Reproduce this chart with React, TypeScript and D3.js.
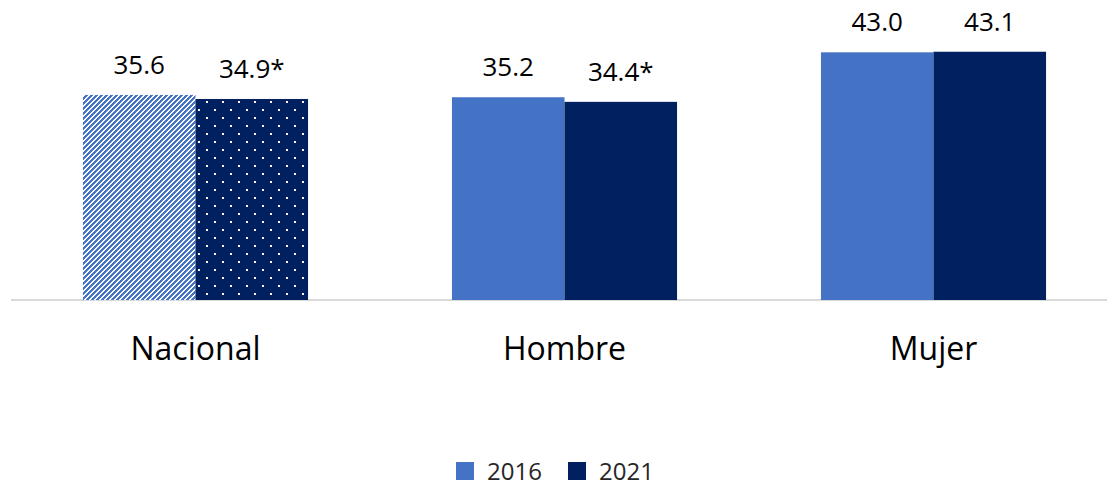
import React from 'react';
import * as d3 from 'd3';

// datos
const categories = ['Nacional', 'Hombre', 'Mujer'];
const years = ['2016', '2021'];
const values2016 = [35.6, 35.2, 43.0];
const values2021 = [34.9, 34.4, 43.1];
const labels2016 = ['35.6', '35.2', '43.0'];
const labels2021 = ['34.9*', '34.4*', '43.1'];

const W = 1107;
const H = 490;
const C2016 = '#4472C4';
const C2021 = '#002060';
const FONT = "'Open Sans', 'Noto Sans', sans-serif";

export default function App() {
  const baseY = 300;
  const x = d3.scaleBand<string>()
    .domain(categories)
    .range([11, 1118])
    .paddingInner(0.39)
    .paddingOuter(0.195);
  const sub = d3.scaleBand<string>()
    .domain(years)
    .range([0, x.bandwidth()]);
  const y = d3.scaleLinear()
    .domain([0, 50])
    .range([baseY, 12]);

  const series = [
    { year: '2016', values: values2016, labels: labels2016, color: C2016 },
    { year: '2021', values: values2021, labels: labels2021, color: C2021 },
  ];

  // the Nacional bars use pattern fills
  const fillFor = (s: number, i: number) => {
    if (i === 0) return s === 0 ? 'url(#stripes)' : 'url(#dots)';
    return series[s].color;
  };

  // staircase for the upward diagonal, (x + y) mod 5 in {0,1}
  const P = 5;
  const stripeCells: [number, number][] = [];
  for (let px = 0; px < P; px++) {
    for (let py = 0; py < P; py++) {
      if ((px + py) % P < 2) stripeCells.push([px, py]);
    }
  }

  return (
    <svg width={W} height={H} style={{ position: 'absolute', left: 0, top: 0, background: '#fff' }}>
      <defs>
        <pattern id="stripes" patternUnits="userSpaceOnUse" width={P} height={P}>
          <rect width={P} height={P} fill={C2016} />
          {stripeCells.map(([px, py]) => (
            <rect key={`${px}-${py}`} x={px} y={py} width={1} height={1} fill="#fff" shapeRendering="crispEdges" />
          ))}
        </pattern>
        <pattern id="dots" patternUnits="userSpaceOnUse" width={16} height={16} x={203} y={101}>
          <rect width={16} height={16} fill={C2021} />
          <rect x={0} y={0} width={2} height={2} fill="#fff" shapeRendering="crispEdges" />
          <rect x={8} y={8} width={2} height={2} fill="#fff" shapeRendering="crispEdges" />
        </pattern>
      </defs>

      {/* axis line */}
      <line x1={11} x2={W} y1={baseY} y2={baseY} stroke="#d9d9d9" strokeWidth={2} />

      {categories.map((cat, i) => (
        <g key={cat} transform={`translate(${x(cat)},0)`}>
          {series.map((s, si) => (
            <rect
              key={s.year}
              x={sub(s.year)}
              y={y(s.values[i])}
              width={sub.bandwidth()}
              height={baseY - y(s.values[i])}
              fill={fillFor(si, i)}
            />
          ))}
          {series.map((s) => (
            <text
              key={s.year}
              x={(sub(s.year) ?? 0) + sub.bandwidth() / 2}
              y={y(s.values[i]) - 21}
              textAnchor="middle"
              fontFamily={FONT}
              fontSize={26}
              fill="#000"
            >
              {s.labels[i]}
            </text>
          ))}
          <text
            x={x.bandwidth() / 2}
            y={360}
            textAnchor="middle"
            fontFamily={FONT}
            fontSize={32}
            fill="#000"
          >
            {cat}
          </text>
        </g>
      ))}

      {/* legend */}
      {series.map((s, si) => (
        <g key={s.year} transform={`translate(${456 + si * 112},0)`}>
          <rect x={0} y={462} width={18} height={18} fill={s.color} />
          <text x={31} y={480} fontFamily={FONT} fontSize={24} fill="#262626">
            {s.year}
          </text>
        </g>
      ))}
    </svg>
  );
}
